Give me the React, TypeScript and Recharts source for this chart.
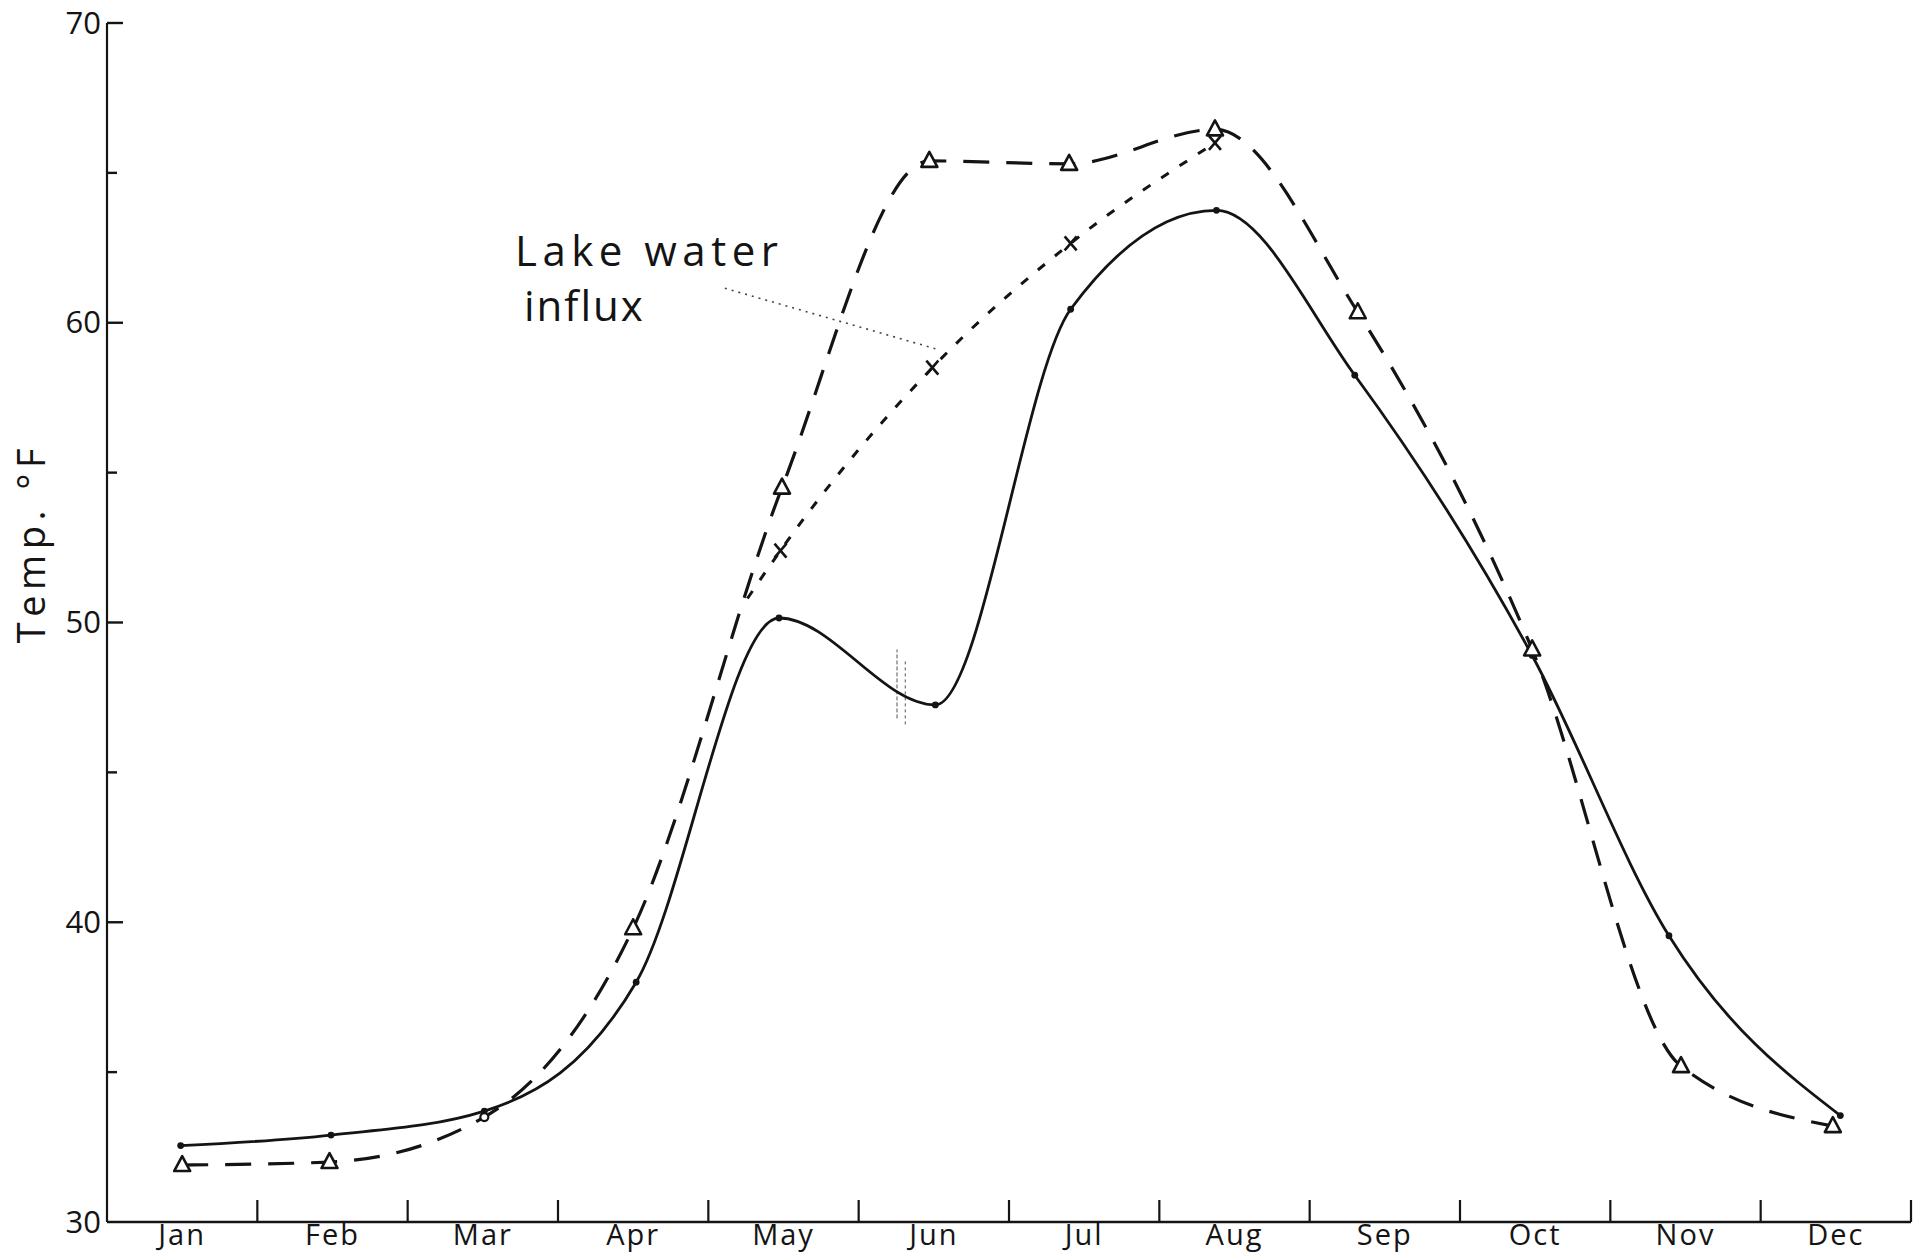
import React from 'react';
import { LineChart, Line, XAxis, YAxis, ReferenceLine, ReferenceDot } from 'recharts';

// Month names along the bottom axis
const months = ['Jan', 'Feb', 'Mar', 'Apr', 'May', 'Jun', 'Jul', 'Aug', 'Sep', 'Oct', 'Nov', 'Dec'];
// Month centres (label positions), in months from 1 Jan
const monthCenters = [0.5, 1.5, 2.5, 3.5, 4.5, 5.5, 6.5, 7.5, 8.5, 9.5, 10.5, 11.5];
// Temperature ticks (°F); labels on every 10°
const tempTicks = [30, 35, 40, 45, 50, 55, 60, 65, 70];

// Solid curve: sampling time (months) and temperature (°F)
const solidMonths = [0.49, 1.49, 2.51, 3.52, 4.47, 5.51, 6.41, 7.38, 8.3, 9.48, 10.39, 11.53];
const solidTemps = [32.55, 32.9, 33.7, 38.0, 50.15, 47.25, 60.45, 63.75, 58.25, 48.9, 39.55, 33.55];

// Dashed curve with triangle markers
const dashedMonths = [0.5, 1.48, 2.51, 3.5, 4.49, 5.47, 6.4, 7.37, 8.32, 9.48, 10.47, 11.48];
const dashedTemps = [31.9, 32.0, 33.5, 39.8, 54.5, 65.4, 65.3, 66.45, 60.35, 49.1, 35.2, 33.2];

// Lake water influx (short-dash curve with x markers); first entry is where it branches off
const influxMonths = [4.26, 4.48, 5.49, 6.41, 7.37];
const influxTemps = [50.8, 52.4, 58.5, 62.65, 66.0];

const solidData = solidMonths.map((m, i) => ({ m, t: solidTemps[i] }));
const dashedData = dashedMonths.map((m, i) => ({ m, t: dashedTemps[i] }));
const influxData = influxMonths.map((m, i) => ({ m, t: influxTemps[i] }));

const FONT = '"Open Sans", "DejaVu Sans", sans-serif';
const INK = '#141414';

// Annotation anchor (data coordinates) and leader line
const noteAnchor = { m: 2.714, t: 61.9 };
const leader = [{ x: 4.11, y: 61.15 }, { x: 5.52, y: 59.12 }];
const hatchA = [{ x: 5.255, y: 46.8 }, { x: 5.255, y: 49.1 }];
const hatchB = [{ x: 5.31, y: 46.6 }, { x: 5.31, y: 48.7 }];

// Month label centred in its band, plus the upward tick at the band's right edge
function MonthTick(props: any) {
  const { x, y, payload, width } = props;
  const halfBand = (typeof width === 'number' && width > 0 ? width : 1804) / 24;
  const label = months[Math.floor(payload.value)];
  return (
    <g>
      <line x1={x + halfBand} y1={y} x2={x + halfBand} y2={y - 22} stroke={INK} strokeWidth={2.2} />
      <text x={x} y={y + 23} textAnchor="middle" fontSize={29} fontFamily={FONT}
        fill={INK} letterSpacing={2}>
        {label}
      </text>
    </g>
  );
}

function TempTick(props: any) {
  const { x, y, payload } = props;
  const v = payload.value;
  const major = v % 10 === 0;
  return (
    <g>
      {v !== 30 && (
        <line x1={x} y1={y} x2={x + (major ? 16 : 10)} y2={y} stroke={INK} strokeWidth={2.4} />
      )}
      {major && (
        <text x={x - 6} y={y} dy="0.34em" textAnchor="end" fontSize={31} fontFamily={FONT}
          fill={INK}>
          {v}
        </text>
      )}
    </g>
  );
}

function TempLabel(props: any) {
  const vb = props.viewBox || { x: 0, y: 23 };
  const cx = vb.x + 31;
  const cy = vb.y + 520;
  return (
    <text x={cx} y={cy} transform={`rotate(-90 ${cx} ${cy})`} textAnchor="middle" dy="0.36em"
      fontSize={38} fontFamily={FONT} fill={INK} letterSpacing={5.5}>
      Temp. °F
    </text>
  );
}

function Triangle(props: any) {
  const { cx, cy, index } = props;
  if (index === 2) {
    return <circle key={`tri-${index}`} cx={cx} cy={cy} r={4} fill="#fff" stroke={INK} strokeWidth={2.2} />;
  }
  return (
    <path key={`tri-${index}`} d={`M${cx},${cy - 9} L${cx - 8},${cy + 6} L${cx + 8},${cy + 6} Z`}
      fill="#fff" stroke={INK} strokeWidth={2.6} strokeLinejoin="round" />
  );
}

function Cross(props: any) {
  const { cx, cy, index } = props;
  if (index === 0) return <g key={`x-${index}`} />;
  return (
    <g key={`x-${index}`}>
      <line x1={cx - 6} y1={cy - 7} x2={cx + 6} y2={cy + 7} stroke={INK} strokeWidth={2.6} />
      <line x1={cx + 6} y1={cy - 7} x2={cx - 6} y2={cy + 7} stroke={INK} strokeWidth={2.6} />
    </g>
  );
}

function SmallDot(props: any) {
  const { cx, cy, index } = props;
  return <circle key={`s-${index}`} cx={cx} cy={cy} r={3.4} fill={INK} />;
}

function Note(props: any) {
  const { cx, cy } = props;
  return (
    <g fontFamily={FONT} fill={INK} fontSize={42}>
      <text x={cx} y={cy} letterSpacing={5.5}>Lake water</text>
      <text x={cx + 9} y={cy + 55} letterSpacing={2}>influx</text>
    </g>
  );
}

export default function App() {
  return (
    <div style={{ position: 'fixed', left: 0, top: 0, width: 1921, height: 1255, background: '#fff', overflow: 'hidden' }}>
      <LineChart width={1921} height={1255} margin={{ top: 23, right: 10, bottom: 0, left: 0 }}>
        <XAxis type="number" dataKey="m" domain={[0, 12]} ticks={monthCenters} interval={0}
          height={33} tickSize={0} tickMargin={0} tickLine={false}
          axisLine={{ stroke: INK, strokeWidth: 2.6 }} tick={MonthTick} />
        <YAxis type="number" domain={[30, 70]} ticks={tempTicks} interval={0} width={107}
          tickSize={0} tickMargin={0} tickLine={false} axisLine={{ stroke: INK, strokeWidth: 2.2 }}
          tick={TempTick} label={TempLabel} allowDataOverflow />

        <ReferenceLine segment={leader} stroke="#444" strokeWidth={1.6} strokeDasharray="2 5" />
        <ReferenceLine segment={hatchA} stroke="#555" strokeWidth={1} strokeDasharray="4 2" />
        <ReferenceLine segment={hatchB} stroke="#555" strokeWidth={1} strokeDasharray="3 3" />
        <ReferenceDot x={noteAnchor.m} y={noteAnchor.t} r={0} shape={Note} />

        <Line data={solidData} dataKey="t" type="monotone" stroke={INK} strokeWidth={2.8}
          dot={SmallDot} activeDot={false} isAnimationActive={false} />
        <Line data={influxData} dataKey="t" type="monotone" stroke={INK} strokeWidth={3}
          strokeDasharray="9 13" dot={Cross} activeDot={false} isAnimationActive={false} />
        <Line data={dashedData} dataKey="t" type="monotone" stroke={INK} strokeWidth={3.2}
          strokeDasharray="26 17" dot={Triangle} activeDot={false} isAnimationActive={false} />
      </LineChart>
    </div>
  );
}
